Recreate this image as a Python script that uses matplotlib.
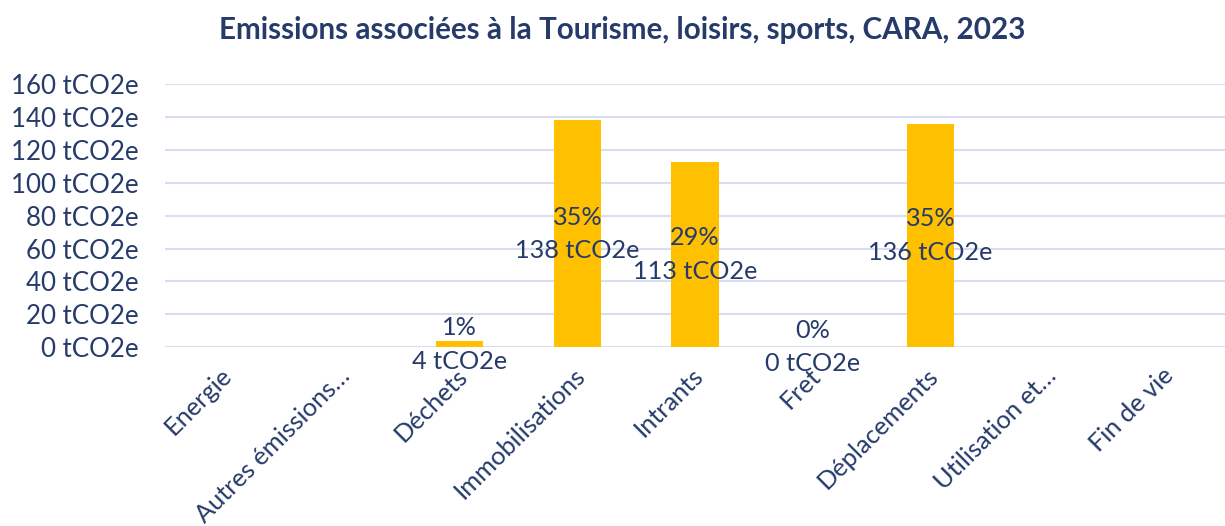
import matplotlib
matplotlib.use("Agg")
import matplotlib.pyplot as plt
import matplotlib.transforms as mtransforms
import numpy as np

categories = ["Energie", "Autres émissions…", "Déchets", "Immobilisations", "Intrants",
              "Fret", "Déplacements", "Utilisation et…", "Fin de vie"]
values = [0, 0, 3.5, 138, 112.5, 0, 135.7, 0, 0]
pct_labels = [None, None, "1%", "35%", "29%", "0%", "35%", None, None]
val_labels = [None, None, "4 tCO2e", "138 tCO2e", "113 tCO2e", "0 tCO2e", "136 tCO2e", None, None]
yticks = [0, 20, 40, 60, 80, 100, 120, 140, 160]

plt.rcParams['font.family'] = ['Lato', 'DejaVu Sans']
navy = "#263B6A"
gold = "#FFC000"
grid = "#D9DDF0"

fig = plt.figure(figsize=(12.25, 5.26), dpi=100)
ax = fig.add_axes([0.1347, 0.340, 0.8653, 0.500])
x = np.arange(len(categories))
ax.bar(x, values, width=0.4, color=gold, zorder=3)
ax.set_xlim(-0.5, len(categories) - 0.5)
ax.set_ylim(0, 160)
ax.set_yticks(yticks)
ax.set_yticklabels([f"{v} tCO2e" for v in yticks], fontsize=18.6, color=navy)
ax.yaxis.grid(True, color=grid, linewidth=1.5, zorder=0)
ax.tick_params(axis='y', length=0, pad=19)
ax.tick_params(axis='x', length=0, pad=12)
ax.set_xticks(x)
ax.set_xticklabels(categories, rotation=45, ha='right', rotation_mode='anchor',
                   fontsize=18.3, color=navy)
offset = mtransforms.ScaledTranslation(-4 / 100, 0, fig.dpi_scale_trans)
for lbl in ax.get_xticklabels():
    lbl.set_transform(lbl.get_transform() + offset)
for s in ax.spines.values():
    s.set_visible(False)

for xi, v, p, l in zip(x, values, pct_labels, val_labels):
    if p is None:
        continue
    ax.text(xi, v / 2, f"{p}\n{l}", ha='center', va='center', fontsize=18.2,
            color=navy, linespacing=1.55, zorder=4)

fig.text(0.508, 0.943, "Emissions associées à la Tourisme, loisirs, sports, CARA, 2023",
         ha='center', va='center', fontsize=21.3, fontweight='bold', color=navy)

fig.savefig("out.png", dpi=100)
